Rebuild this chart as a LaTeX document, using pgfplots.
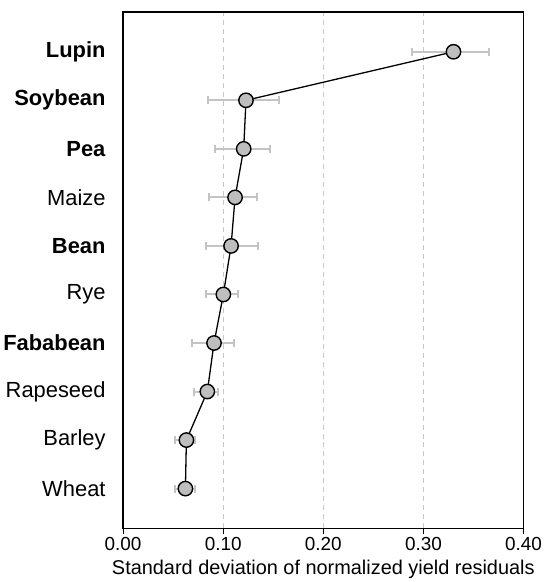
\documentclass[border=0pt]{standalone}
\usepackage{pgfplots}
\pgfplotsset{compat=1.18}
\usepackage{pgfplotstable}
\usepackage{fontspec}
\setmainfont{Liberation Sans}
\definecolor{errgray}{HTML}{C4C4C4}
\definecolor{gridgray}{HTML}{C8C8C8}
\definecolor{markgray}{HTML}{BEBEBE}
\pgfplotstableread{
y x ep em
0 0.0623 0.0093 0.0103
1 0.0633 0.0083 0.0117
2 0.0842 0.0110 0.0130
3 0.0909 0.0199 0.0223
4 0.1002 0.0146 0.0173
5 0.1079 0.0269 0.0247
6 0.1119 0.0219 0.0257
7 0.1205 0.0263 0.0283
8 0.1228 0.0327 0.0375
9 0.3300 0.0350 0.0410
}\datatable
\begin{document}
\begin{tikzpicture}
\begin{axis}[
  name=ax,
  scale only axis,
  width=401bp, height=517bp,
  xmin=0, xmax=0.4,
  ymin=-0.82, ymax=9.82,
  xtick={0,0.1,0.2,0.3,0.4},
  xticklabels={0.00,0.10,0.20,0.30,0.40},
  ytick={0,...,9},
  yticklabels={Wheat,Barley,Rapeseed,\textbf{Fababean},Rye,\textbf{Bean},Maize,\textbf{Pea},\textbf{Soybean},\textbf{Lupin}},
  /pgf/number format/assume math mode=true,
  tick label style={font=\fontsize{19}{22}\selectfont},
  xticklabel style={yshift=1bp},
  yticklabel style={font=\fontsize{22}{26}\selectfont, xshift=-8bp},
  xlabel={Standard deviation of normalized yield residuals},
  xlabel style={font=\fontsize{20}{24}\selectfont, yshift=-3bp},
  xmajorgrids,
  major grid style={gridgray, dash pattern=on 5bp off 4bp, line width=0.9bp},
  axis line style={line width=1.2bp},
  xtick style={black, line width=1bp},
  xtick pos=bottom,
  major tick length=6bp,
  ytick style={draw=none},
  tick align=outside,
]
\addplot[black, line width=1.3bp, mark=*, mark size=7.2bp,
  mark options={fill=markgray, draw=black, line width=1.4bp},
  error bars/.cd, x dir=both, x explicit,
  error bar style={errgray, line width=2bp},
  error mark options={errgray, line width=2bp, mark size=4bp, rotate=90}]
  table[x=x, y=y, x error plus=ep, x error minus=em] {\datatable};
\end{axis}
\path[use as bounding box] ([xshift=-120.3bp, yshift=-53bp]ax.south west) rectangle ([xshift=22bp, yshift=12bp]ax.north east);
\end{tikzpicture}
\end{document}
